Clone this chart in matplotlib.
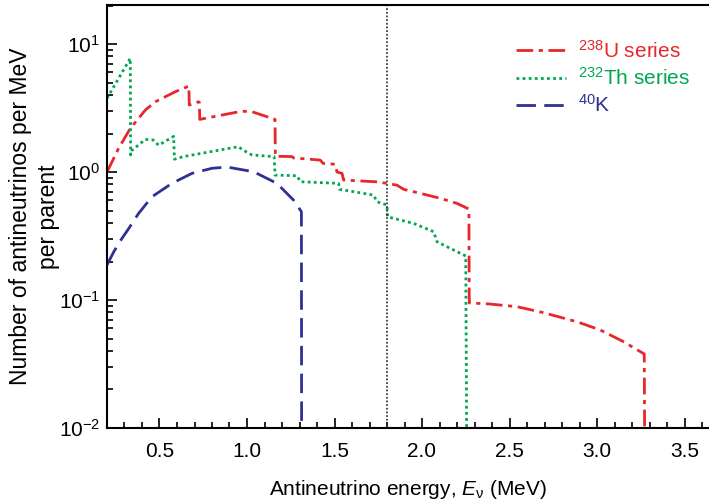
import matplotlib
matplotlib.use("Agg")
import matplotlib.pyplot as plt

plt.rcParams['font.family'] = ['Liberation Sans', 'DejaVu Sans']
plt.rcParams['mathtext.fontset'] = 'custom'
plt.rcParams['mathtext.rm'] = 'Liberation Sans'
plt.rcParams['mathtext.it'] = 'Liberation Sans:italic'
plt.rcParams['mathtext.default'] = 'regular'

# 238U series spectrum (MeV, antineutrinos per MeV per parent)
u_energy = [0.20, 0.266, 0.333, 0.419, 0.476, 0.590, 0.668, 0.670, 0.723, 0.728, 0.730,
            0.971, 1.029, 1.160, 1.162, 1.257, 1.265, 1.419, 1.434, 1.505, 1.514, 1.543,
            1.552, 1.733, 1.800, 1.857, 1.895, 1.990, 2.105, 2.200, 2.268, 2.270, 2.390,
            2.543, 2.695, 2.886, 3.019, 3.152, 3.270, 3.272]
u_flux = [1.00, 1.53, 2.19, 3.05, 3.54, 4.24, 4.70, 3.34, 3.54, 3.50, 2.58,
          2.99, 2.96, 2.58, 1.33, 1.32, 1.29, 1.24, 1.17, 1.15, 1.00, 0.977,
          0.866, 0.84, 0.816, 0.79, 0.733, 0.682, 0.623, 0.569, 0.514, 0.095, 0.093,
          0.0887, 0.0796, 0.0676, 0.0583, 0.0472, 0.0379, 0.01]

# 232Th series spectrum
th_energy = [0.20, 0.333, 0.335, 0.343, 0.419, 0.464, 0.495, 0.581, 0.585, 0.636,
             0.952, 0.971, 1.029, 1.155, 1.160, 1.286, 1.305, 1.523, 1.529, 1.723,
             1.743, 1.800, 1.803, 1.952, 2.066, 2.086, 2.250, 2.255]
th_flux = [3.77, 7.73, 1.36, 1.48, 1.80, 1.78, 1.62, 1.90, 1.26, 1.32,
           1.58, 1.50, 1.36, 1.32, 0.947, 0.936, 0.84, 0.816, 0.733, 0.661,
           0.586, 0.552, 0.447, 0.397, 0.342, 0.285, 0.221, 0.01]

# 40K spectrum
k_energy = [0.20, 0.240, 0.276, 0.323, 0.381, 0.457, 0.571, 0.686, 0.800, 0.887, 1.038,
            1.171, 1.266, 1.311, 1.312]
k_flux = [0.188, 0.240, 0.290, 0.360, 0.476, 0.641, 0.816, 0.977, 1.07, 1.094, 1.005,
          0.816, 0.604, 0.49, 0.01]

kamland_threshold = 1.8

fig = plt.figure(figsize=(7.09, 5.01), dpi=100)
ax = fig.add_axes([107 / 709, 73 / 501, 602 / 709, 423 / 501])

ax.plot(u_energy, u_flux, color='#e8262b', lw=2.0, dashes=(6, 2, 1.5, 2),
        label=r'$^{238}$U series')
ax.plot(th_energy, th_flux, color='#00a651', lw=2.0, dashes=(1, 1.2),
        label=r'$^{232}$Th series')
ax.plot(k_energy, k_flux, color='#2e3192', lw=2.0, dashes=(7, 3),
        label=r'$^{40}$K')
ax.axvline(kamland_threshold, color='#222222', lw=1.1, ls=(0, (1.2, 1.2)))

ax.set_yscale('log')
ax.set_xlim(0.2, 3.64)
ax.set_ylim(0.01, 20.2)
ax.set_xticks([0.5, 1.0, 1.5, 2.0, 2.5, 3.0, 3.5])
ax.set_xticklabels(['0.5', '1.0', '1.5', '2.0', '2.5', '3.0', '3.5'])
ax.xaxis.set_minor_locator(matplotlib.ticker.MultipleLocator(0.1))

ax.spines['right'].set_visible(False)
for s in ['left', 'bottom', 'top']:
    ax.spines[s].set_linewidth(1.5)
ax.tick_params(which='both', direction='in', width=1.2, labelsize=15, pad=10)
ax.tick_params(which='major', length=7)
ax.tick_params(which='minor', length=4.5)
ax.tick_params(axis='y', pad=5)

ax.set_xlabel(r'Antineutrino energy, $\mathit{E}_{\nu}$ (MeV)', fontsize=15, labelpad=12)
ax.set_ylabel('Number of antineutrinos per MeV\nper parent', fontsize=16.5,
              linespacing=1.3)
ax.yaxis.set_label_coords(-0.078, 0.5)

leg = ax.legend(loc='upper right', bbox_to_anchor=(1.0, 0.962), frameon=False,
                fontsize=15, handlelength=2.4, handletextpad=0.6, labelspacing=0.25,
                labelcolor='linecolor')

fig.savefig('out.png', dpi=100)
